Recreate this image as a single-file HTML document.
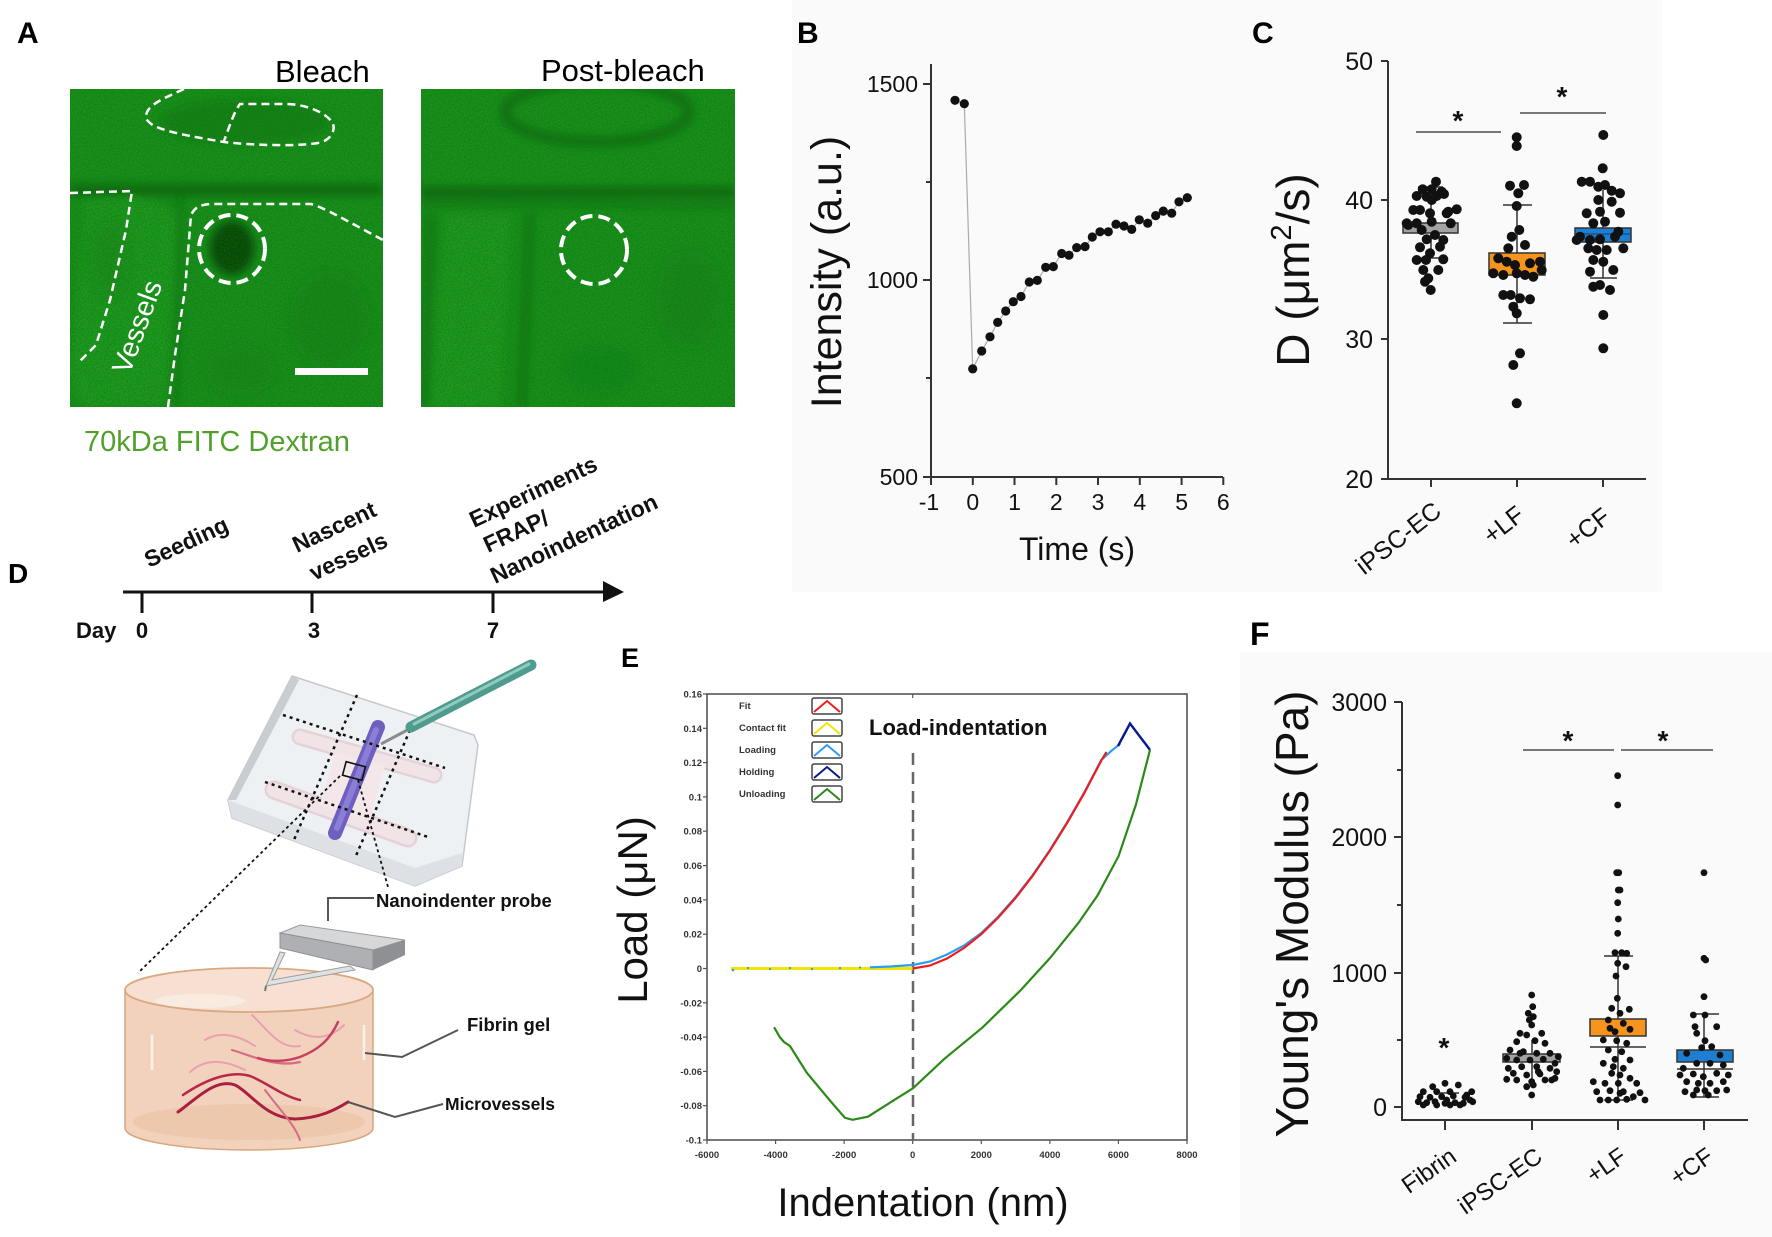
<!DOCTYPE html>
<html>
<head>
<meta charset="utf-8">
<style>
html,body{margin:0;padding:0;background:#fff;}
svg{display:block;}
text{font-family:"Liberation Sans",Arial,sans-serif;}
</style>
</head>
<body>
<svg width="1772" height="1237" viewBox="0 0 1772 1237" xmlns="http://www.w3.org/2000/svg">
<defs>
  <filter id="blur4" x="-20%" y="-20%" width="140%" height="140%"><feGaussianBlur stdDeviation="4"/></filter>
  <filter id="blur8" x="-30%" y="-30%" width="160%" height="160%"><feGaussianBlur stdDeviation="8"/></filter>
  <filter id="noise" x="0" y="0" width="100%" height="100%">
    <feTurbulence type="fractalNoise" baseFrequency="0.7" numOctaves="2" seed="3" result="n"/>
    <feColorMatrix type="matrix" values="0 0 0 0 0  0 0 0 0 0.2  0 0 0 0 0  0 0 0 1.2 -0.35" />
  </filter>
  <clipPath id="clipL"><rect x="70" y="89" width="313" height="318"/></clipPath>
  <clipPath id="clipR"><rect x="421" y="89" width="314" height="318"/></clipPath>
</defs>

<rect x="0" y="0" width="1772" height="1237" fill="#ffffff"/>
<rect x="792" y="0" width="870" height="592" fill="#fafafa"/>
<rect x="1240" y="652" width="532" height="585" fill="#fafafa"/>

<!-- ================= PANEL A ================= -->
<text x="17" y="43" font-size="30" font-weight="bold" fill="#000">A</text>
<text x="275" y="82" font-size="31" fill="#000">Bleach</text>
<text x="541" y="81" font-size="31" fill="#000">Post-bleach</text>

<g clip-path="url(#clipL)">
  <rect x="70" y="89" width="313" height="318" fill="#1f8f22"/>
  <g filter="url(#blur4)">
    <polygon points="85,200 135,195 180,215 165,407 80,407 70,370" fill="#2aa52c" opacity="0.5"/>
    <ellipse cx="245" cy="122" rx="85" ry="22" fill="#146f17" opacity="0.5"/>
    <path d="M70,190 L383,190" stroke="#0b5a10" stroke-width="11" opacity="0.8"/>
    <path d="M180,195 L175,407" stroke="#0f6414" stroke-width="6" opacity="0.5"/>
    <ellipse cx="232" cy="248" rx="22" ry="27" fill="#073f09"/>
  </g>
  <g filter="url(#blur8)">
    <ellipse cx="330" cy="320" rx="40" ry="50" fill="#157518" opacity="0.35"/>
    <ellipse cx="240" cy="370" rx="35" ry="25" fill="#167818" opacity="0.3"/>
    <ellipse cx="110" cy="260" rx="20" ry="40" fill="#157518" opacity="0.3"/>
  </g>
  <rect x="70" y="89" width="313" height="318" filter="url(#noise)"/>
  <g fill="none" stroke="#ffffff" stroke-width="2.5" stroke-dasharray="8 5">
    <path d="M184,89 C165,98 145,105 146,118 C150,128 170,133 224,142 C260,146 300,146 318,143 C333,140 336,128 332,122 C325,112 305,104 286,104 L240,104 C234,112 230,125 224,141"/>
    <path d="M70,193 L132,191 L126,230 L110,300 L96,345 L79,362"/>
    <path d="M168,407 L175,355 L185,290 L191,215 C195,207 200,205 210,204 L311,204 C325,208 345,220 383,240"/>
  </g>
  <ellipse cx="232" cy="249" rx="33" ry="34" fill="none" stroke="#ffffff" stroke-width="4" stroke-dasharray="12 6"/>
  <rect x="295" y="368" width="73" height="7" fill="#ffffff"/>
  <text transform="translate(146,330) rotate(-70)" text-anchor="middle" font-size="28" fill="#ffffff">Vessels</text>
</g>

<g clip-path="url(#clipR)">
  <rect x="421" y="89" width="314" height="318" fill="#1f8f22"/>
  <g filter="url(#blur4)">
    <ellipse cx="597" cy="112" rx="92" ry="30" fill="none" stroke="#0c5d11" stroke-width="9" opacity="0.7"/>
    <path d="M421,192 L735,192" stroke="#0b5a10" stroke-width="10" opacity="0.8"/>
    <path d="M421,202 L735,204" stroke="#0f6414" stroke-width="7" opacity="0.55"/>
    <polygon points="445,215 512,215 500,407 430,407" fill="#2aa52c" opacity="0.5"/>
    <path d="M430,215 L425,407" stroke="#0f6414" stroke-width="8" opacity="0.55"/>
    <path d="M530,212 L522,407" stroke="#0f6414" stroke-width="7" opacity="0.65"/>
  </g>
  <g filter="url(#blur8)">
    <ellipse cx="690" cy="300" rx="35" ry="50" fill="#157518" opacity="0.3"/>
    <ellipse cx="600" cy="370" rx="40" ry="25" fill="#157518" opacity="0.25"/>
  </g>
  <rect x="421" y="89" width="314" height="318" filter="url(#noise)"/>
  <ellipse cx="594" cy="250" rx="33" ry="34" fill="none" stroke="#ffffff" stroke-width="4" stroke-dasharray="12 6"/>
</g>

<text x="84" y="451" font-size="29" fill="#52a02c">70kDa FITC Dextran</text>

<!-- ================= PANEL B ================= -->
<text x="797" y="43" font-size="30" font-weight="bold" fill="#000">B</text>
<g stroke="#333" stroke-width="2" fill="none">
  <path d="M931,64 L931,477 L1223,477"/>
  <path d="M923,84 L931,84 M923,280 L931,280 M923,477 L931,477 M926,182 L931,182 M926,378 L931,378"/>
  <path d="M931,477 L931,485 M972.8,477 L972.8,485 M1014.5,477 L1014.5,485 M1056.3,477 L1056.3,485 M1098,477 L1098,485 M1139.8,477 L1139.8,485 M1181.6,477 L1181.6,485 M1223.3,477 L1223.3,485"/>
</g>
<g font-size="23" fill="#111" text-anchor="end">
  <text x="918" y="92">1500</text>
  <text x="918" y="288">1000</text>
  <text x="918" y="485">500</text>
</g>
<g font-size="23" fill="#111" text-anchor="middle">
  <text x="929" y="510">-1</text>
  <text x="972.8" y="510">0</text>
  <text x="1014.5" y="510">1</text>
  <text x="1056.3" y="510">2</text>
  <text x="1098" y="510">3</text>
  <text x="1139.8" y="510">4</text>
  <text x="1181.6" y="510">5</text>
  <text x="1223.3" y="510">6</text>
</g>
<text x="1077" y="560" font-size="32" text-anchor="middle" fill="#111">Time (s)</text>
<text transform="translate(841,272) rotate(-90)" font-size="43" text-anchor="middle" fill="#111">Intensity (a.u.)</text>
<polyline points="955,100.3 964.3,103.7 972.7,368.9 981.7,351 990,336.8 997.7,322.4 1005.7,311 1013.3,301.7 1021,296.5 1029.3,282 1037.3,280.4 1045.7,267.3 1053.3,266.6 1061.7,253.5 1069,255.2 1076.7,247.6 1085,246.6 1092.3,237 1100,231.8 1108.3,231.8 1116,224.2 1124,226 1131.7,229.4 1139.3,219.8 1147.7,223.2 1155.7,215.6 1163.3,211.1 1171.7,213.2 1179,201.8 1187.3,197.7" fill="none" stroke="#aaa" stroke-width="1.2"/>
<g fill="#111">
  <circle cx="955" cy="100.3" r="4.6"/><circle cx="964.3" cy="103.7" r="4.6"/><circle cx="972.7" cy="368.9" r="4.6"/>
  <circle cx="981.7" cy="351" r="4.6"/><circle cx="990" cy="336.8" r="4.6"/><circle cx="997.7" cy="322.4" r="4.6"/>
  <circle cx="1005.7" cy="311" r="4.6"/><circle cx="1013.3" cy="301.7" r="4.6"/><circle cx="1021" cy="296.5" r="4.6"/>
  <circle cx="1029.3" cy="282" r="4.6"/><circle cx="1037.3" cy="280.4" r="4.6"/><circle cx="1045.7" cy="267.3" r="4.6"/>
  <circle cx="1053.3" cy="266.6" r="4.6"/><circle cx="1061.7" cy="253.5" r="4.6"/><circle cx="1069" cy="255.2" r="4.6"/>
  <circle cx="1076.7" cy="247.6" r="4.6"/><circle cx="1085" cy="246.6" r="4.6"/><circle cx="1092.3" cy="237" r="4.6"/>
  <circle cx="1100" cy="231.8" r="4.6"/><circle cx="1108.3" cy="231.8" r="4.6"/><circle cx="1116" cy="224.2" r="4.6"/>
  <circle cx="1124" cy="226" r="4.6"/><circle cx="1131.7" cy="229.4" r="4.6"/><circle cx="1139.3" cy="219.8" r="4.6"/>
  <circle cx="1147.7" cy="223.2" r="4.6"/><circle cx="1155.7" cy="215.6" r="4.6"/><circle cx="1163.3" cy="211.1" r="4.6"/>
  <circle cx="1171.7" cy="213.2" r="4.6"/><circle cx="1179" cy="201.8" r="4.6"/><circle cx="1187.3" cy="197.7" r="4.6"/>
</g>

<!-- ================= PANEL C ================= -->
<text x="1252" y="43" font-size="30" font-weight="bold" fill="#000">C</text>
<g stroke="#333" stroke-width="2" fill="none">
  <path d="M1388,61 L1388,479 L1646,479"/>
  <path d="M1381,61 L1388,61 M1381,200 L1388,200 M1381,339 L1388,339 M1381,479 L1388,479"/>
  <path d="M1431,479 L1431,487 M1517,479 L1517,487 M1603,479 L1603,487"/>
</g>
<g font-size="25" fill="#111" text-anchor="end">
  <text x="1373" y="70">50</text>
  <text x="1373" y="209">40</text>
  <text x="1373" y="348">30</text>
  <text x="1373" y="488">20</text>
</g>
<text transform="translate(1309,270) rotate(-90)" font-size="46" text-anchor="middle" fill="#111">D (μm<tspan font-size="29" dy="-18">2</tspan><tspan dy="18">/s)</tspan></text>
<g font-size="25" fill="#111" text-anchor="end">
  <text transform="translate(1443,514) rotate(-38)">iPSC-EC</text>
  <text transform="translate(1526,518) rotate(-38)">+LF</text>
  <text transform="translate(1612,520) rotate(-38)">+CF</text>
</g>
<g stroke="#777" stroke-width="2">
  <line x1="1416" y1="132" x2="1501" y2="132"/>
  <line x1="1520" y1="113" x2="1606" y2="113"/>
</g>
<text x="1458" y="130" font-size="28" font-weight="bold" text-anchor="middle" fill="#111">*</text>
<text x="1562" y="106" font-size="28" font-weight="bold" text-anchor="middle" fill="#111">*</text>
<g stroke="#333" stroke-width="1.5">
  <line x1="1431" y1="187" x2="1431" y2="258"/>
  <line x1="1418" y1="187" x2="1443" y2="187"/>
  <line x1="1418" y1="195" x2="1443" y2="195"/>
  <line x1="1418" y1="258" x2="1443" y2="258"/>
  <rect x="1403" y="223" width="55" height="10" fill="#a3a3a3"/>
  <line x1="1517" y1="205" x2="1517" y2="323"/>
  <line x1="1503" y1="205" x2="1532" y2="205"/>
  <line x1="1503" y1="323" x2="1532" y2="323"/>
  <rect x="1489" y="253" width="56" height="22" fill="#f7941d"/>
  <line x1="1603" y1="190" x2="1603" y2="278"/>
  <line x1="1590" y1="278" x2="1617" y2="278"/>
  <rect x="1575" y="228" width="56" height="14" fill="#1e7fd2"/>
  <line x1="1575" y1="234" x2="1631" y2="234" stroke="#14538a"/>
</g>
<g fill="#111">
  <circle cx="1436" cy="181.7" r="5"/><circle cx="1422.7" cy="189.3" r="5"/><circle cx="1431.7" cy="189.3" r="5"/><circle cx="1441.7" cy="191.7" r="5"/>
  <circle cx="1416.7" cy="196" r="5"/><circle cx="1426.7" cy="196.7" r="5"/><circle cx="1436.7" cy="196" r="5"/><circle cx="1444" cy="194" r="5"/>
  <circle cx="1456.7" cy="209.3" r="5"/><circle cx="1413.3" cy="210" r="5"/><circle cx="1420" cy="210" r="5"/><circle cx="1430" cy="213.3" r="5"/>
  <circle cx="1446.7" cy="213.3" r="5"/><circle cx="1406.7" cy="223.3" r="5"/><circle cx="1416.7" cy="223.3" r="5"/><circle cx="1431.7" cy="221.7" r="5"/>
  <circle cx="1450.7" cy="223.3" r="5"/><circle cx="1421.7" cy="230" r="5"/><circle cx="1435" cy="235" r="5"/><circle cx="1426.7" cy="239.3" r="5"/>
  <circle cx="1443.3" cy="240" r="5"/><circle cx="1420" cy="247.3" r="5"/><circle cx="1440" cy="246.7" r="5"/><circle cx="1430" cy="253.3" r="5"/>
  <circle cx="1416.7" cy="260" r="5"/><circle cx="1426" cy="260" r="5"/><circle cx="1443.3" cy="259.3" r="5"/><circle cx="1423.3" cy="270" r="5"/>
  <circle cx="1438.3" cy="270" r="5"/><circle cx="1428.3" cy="278.3" r="5"/><circle cx="1425" cy="281.7" r="5"/><circle cx="1430.7" cy="290" r="5"/>
  <circle cx="1408.3" cy="225" r="5"/><circle cx="1448.3" cy="211.7" r="5"/><circle cx="1431.7" cy="200" r="5"/>

  <circle cx="1516.7" cy="137.3" r="5"/><circle cx="1516.7" cy="146" r="5"/><circle cx="1510" cy="185.7" r="5"/><circle cx="1524" cy="185" r="5"/>
  <circle cx="1518.3" cy="193.3" r="5"/><circle cx="1516.7" cy="206" r="5"/><circle cx="1519.3" cy="230" r="5"/><circle cx="1508.3" cy="248.3" r="5"/>
  <circle cx="1525" cy="245" r="5"/><circle cx="1498.3" cy="258.3" r="5"/><circle cx="1506.7" cy="261.7" r="5"/><circle cx="1515" cy="265" r="5"/>
  <circle cx="1530" cy="263.3" r="5"/><circle cx="1540" cy="261.7" r="5"/><circle cx="1541.7" cy="270" r="5"/><circle cx="1493.3" cy="273.3" r="5"/>
  <circle cx="1503.3" cy="275" r="5"/><circle cx="1516.7" cy="273.3" r="5"/><circle cx="1525" cy="275" r="5"/><circle cx="1533.3" cy="276.7" r="5"/>
  <circle cx="1503.3" cy="295" r="5"/><circle cx="1510.7" cy="295" r="5"/><circle cx="1520" cy="298.3" r="5"/><circle cx="1530" cy="299.3" r="5"/>
  <circle cx="1513.3" cy="306.7" r="5"/><circle cx="1516.7" cy="313.3" r="5"/><circle cx="1520" cy="353.3" r="5"/><circle cx="1513.3" cy="365" r="5"/>
  <circle cx="1516.7" cy="403.3" r="5"/><circle cx="1511.7" cy="236.7" r="5"/>

  <circle cx="1603.3" cy="135" r="5"/><circle cx="1602.7" cy="168.3" r="5"/><circle cx="1581.7" cy="181.7" r="5"/><circle cx="1590" cy="181.7" r="5"/>
  <circle cx="1598.3" cy="186.7" r="5"/><circle cx="1605" cy="185" r="5"/><circle cx="1611.7" cy="190.7" r="5"/><circle cx="1620" cy="193.3" r="5"/>
  <circle cx="1611.7" cy="201.7" r="5"/><circle cx="1598.3" cy="200" r="5"/><circle cx="1586.7" cy="213.3" r="5"/><circle cx="1600" cy="211.7" r="5"/>
  <circle cx="1620" cy="212.7" r="5"/><circle cx="1593.3" cy="223.3" r="5"/><circle cx="1605" cy="221.7" r="5"/><circle cx="1580" cy="236.7" r="5"/>
  <circle cx="1590" cy="240" r="5"/><circle cx="1600" cy="239.3" r="5"/><circle cx="1615" cy="236.7" r="5"/><circle cx="1623.3" cy="248.3" r="5"/>
  <circle cx="1588.3" cy="248.3" r="5"/><circle cx="1596.7" cy="250" r="5"/><circle cx="1606.7" cy="250" r="5"/><circle cx="1593.3" cy="260" r="5"/>
  <circle cx="1603.3" cy="261.7" r="5"/><circle cx="1613.3" cy="270" r="5"/><circle cx="1590" cy="271.7" r="5"/><circle cx="1600" cy="285" r="5"/>
  <circle cx="1593.3" cy="286.7" r="5"/><circle cx="1610" cy="290" r="5"/><circle cx="1603.3" cy="315" r="5"/><circle cx="1603.3" cy="348.3" r="5"/>
  <circle cx="1618.3" cy="231.7" r="5"/><circle cx="1576.7" cy="240" r="5"/>
</g>

<!-- ================= PANEL D ================= -->
<text x="8" y="583" font-size="28" font-weight="bold" fill="#000">D</text>
<line x1="123" y1="592" x2="607" y2="592" stroke="#111" stroke-width="3"/>
<polygon points="603,581 624,592 603,602" fill="#111"/>
<g stroke="#111" stroke-width="3">
  <line x1="142" y1="592" x2="142" y2="613"/>
  <line x1="312" y1="592" x2="312" y2="613"/>
  <line x1="493" y1="592" x2="493" y2="613"/>
</g>
<g font-size="22" font-weight="bold" fill="#111">
  <text x="76" y="638">Day</text>
  <text x="142" y="638" text-anchor="middle">0</text>
  <text x="314" y="638" text-anchor="middle">3</text>
  <text x="493" y="638" text-anchor="middle">7</text>
</g>
<g font-size="23" font-weight="bold" fill="#111">
  <text transform="translate(149,568) rotate(-25)">Seeding</text>
  <text transform="translate(297,553) rotate(-25)">Nascent</text>
  <text transform="translate(314,581) rotate(-25)">vessels</text>
  <text transform="translate(474,528) rotate(-25)">Experiments</text>
  <text transform="translate(488,553) rotate(-25)">FRAP/</text>
  <text transform="translate(495,584) rotate(-25)">Nanoindentation</text>
</g>

<polygon points="292,676 474,735 478,745 462,866 415,886 232,818 228,800" fill="#eef1f4" stroke="#c5c9cd" stroke-width="1.5"/>
<polygon points="228,800 415,868 462,853 462,866 415,886 232,818" fill="#dde1e5"/>
<polygon points="292,676 299,680 236,800 228,800" fill="#c9cdd1"/>
<g stroke-linecap="round" fill="none">
  <line x1="300" y1="737" x2="434" y2="775" stroke="#e4d2d7" stroke-width="17"/>
  <line x1="300" y1="737" x2="434" y2="775" stroke="#f1e4e7" stroke-width="12"/>
  <line x1="274" y1="790" x2="408" y2="838" stroke="#e4d2d7" stroke-width="19"/>
  <line x1="274" y1="790" x2="408" y2="838" stroke="#f1e4e7" stroke-width="14"/>
  <polygon points="335,752 385,765 370,820 320,805" fill="#f3e7ea" stroke="none"/>
  <line x1="378" y1="727" x2="335" y2="833" stroke="#6d60bf" stroke-width="14"/>
  <line x1="376" y1="730" x2="337" y2="828" stroke="#8a7ed6" stroke-width="6"/>
</g>
<g stroke="#111" stroke-width="2.5" stroke-dasharray="3 4" fill="none">
  <line x1="283" y1="715" x2="445" y2="768"/>
  <line x1="265" y1="782" x2="428" y2="837"/>
  <line x1="357" y1="695" x2="293" y2="842"/>
  <line x1="410" y1="730" x2="355" y2="858"/>
</g>
<rect x="344" y="764" width="20" height="14" fill="none" stroke="#111" stroke-width="1.6" transform="rotate(15 354 771)"/>
<g stroke="#111" stroke-width="1.8" stroke-dasharray="3 3" fill="none">
  <line x1="340" y1="776" x2="138" y2="973"/>
  <line x1="358" y1="780" x2="388" y2="887"/>
</g>
<line x1="381" y1="744" x2="413" y2="727" stroke="#8a8c8e" stroke-width="3"/>
<line x1="411" y1="727" x2="531" y2="665" stroke="#4f9b8e" stroke-width="11" stroke-linecap="round"/>
<line x1="414" y1="724" x2="529" y2="664" stroke="#8fcbbf" stroke-width="3" stroke-linecap="round"/>
<polyline points="374,898 328,898 328,921" fill="none" stroke="#555" stroke-width="2"/>
<text x="376" y="907" font-size="18.5" font-weight="bold" fill="#111">Nanoindenter probe</text>
<path d="M125,990 L125,1128 A124,22 0 0 0 373,1128 L373,990 Z" fill="#f3d2bd" stroke="#d8a67e" stroke-width="1.5"/>
<ellipse cx="249" cy="1122" rx="116" ry="18" fill="#eabd9d" opacity="0.5"/>
<ellipse cx="249" cy="990" rx="124" ry="22" fill="#f7e0d2" stroke="#d9a982" stroke-width="1.8"/>
<ellipse cx="200" cy="1001" rx="45" ry="7" fill="#ffffff" opacity="0.35"/>
<g stroke="#ffffff" stroke-width="2.5" opacity="0.7">
  <line x1="152" y1="1035" x2="152" y2="1070"/>
  <line x1="364" y1="1025" x2="364" y2="1060"/>
</g>
<g fill="none" stroke-linecap="round">
  <path d="M205,1040 C220,1030 240,1036 255,1046" stroke="#e8a1ae" stroke-width="2"/>
  <path d="M252,1015 C268,1030 280,1050 300,1046" stroke="#e8a1ae" stroke-width="2"/>
  <path d="M295,1030 C315,1042 332,1037 344,1025" stroke="#e8a1ae" stroke-width="2"/>
  <path d="M190,1072 C205,1058 225,1060 245,1070" stroke="#e8a1ae" stroke-width="2"/>
  <path d="M232,1050 C250,1055 275,1068 300,1062" stroke="#d46e85" stroke-width="2.2"/>
  <path d="M338,1022 C330,1040 318,1050 300,1057 C285,1062 270,1062 258,1058" stroke="#c8405e" stroke-width="2.5"/>
  <path d="M183,1095 C205,1080 230,1070 250,1076 C266,1082 282,1096 300,1100" stroke="#b7284a" stroke-width="2.5"/>
  <path d="M178,1112 C195,1100 215,1078 235,1085 C250,1092 265,1118 295,1119 C320,1118 335,1110 348,1102" stroke="#a81f3f" stroke-width="3"/>
  <path d="M265,1090 C280,1110 295,1125 300,1140" stroke="#d46e85" stroke-width="2"/>
</g>
<polygon points="280,952 266,986 355,970 350,966 272,980 285,953" fill="#dfe1e3" stroke="#9a9c9e" stroke-width="1"/>
<line x1="266" y1="986" x2="265" y2="991" stroke="#777" stroke-width="2"/>
<polygon points="280,933 300,925 405,940 373,950" fill="#d5d7d9" stroke="#9a9c9e" stroke-width="1"/>
<polygon points="280,933 373,950 373,970 280,948" fill="#aeb0b3" stroke="#8e9093" stroke-width="1"/>
<polygon points="373,950 405,940 405,955 373,970" fill="#8e9093"/>
<polyline points="365,1053 402,1057 458,1030" fill="none" stroke="#555" stroke-width="2"/>
<text x="467" y="1031" font-size="18.5" font-weight="bold" fill="#111">Fibrin gel</text>
<polyline points="348,1102 395,1117 443,1104" fill="none" stroke="#555" stroke-width="2"/>
<text x="445" y="1110" font-size="17.5" font-weight="bold" fill="#111">Microvessels</text>

<!-- ================= PANEL E ================= -->
<text x="621" y="667" font-size="27" font-weight="bold" fill="#000">E</text>
<rect x="707" y="694" width="480" height="446" fill="#ffffff" stroke="#555" stroke-width="1.6"/>
<g stroke="#555" stroke-width="1.2">
  <line x1="703" y1="694" x2="707" y2="694"/><line x1="703" y1="728.3" x2="707" y2="728.3"/><line x1="703" y1="762.6" x2="707" y2="762.6"/>
  <line x1="703" y1="796.9" x2="707" y2="796.9"/><line x1="703" y1="831.2" x2="707" y2="831.2"/><line x1="703" y1="865.6" x2="707" y2="865.6"/>
  <line x1="703" y1="899.9" x2="707" y2="899.9"/><line x1="703" y1="934.2" x2="707" y2="934.2"/><line x1="703" y1="968.5" x2="707" y2="968.5"/>
  <line x1="703" y1="1002.8" x2="707" y2="1002.8"/><line x1="703" y1="1037.1" x2="707" y2="1037.1"/><line x1="703" y1="1071.4" x2="707" y2="1071.4"/>
  <line x1="703" y1="1105.7" x2="707" y2="1105.7"/><line x1="703" y1="1140" x2="707" y2="1140"/>
  <line x1="707" y1="1140" x2="707" y2="1144"/><line x1="775.6" y1="1140" x2="775.6" y2="1144"/><line x1="844.1" y1="1140" x2="844.1" y2="1144"/>
  <line x1="912.7" y1="1140" x2="912.7" y2="1144"/><line x1="981.3" y1="1140" x2="981.3" y2="1144"/><line x1="1049.9" y1="1140" x2="1049.9" y2="1144"/>
  <line x1="1118.4" y1="1140" x2="1118.4" y2="1144"/><line x1="1187" y1="1140" x2="1187" y2="1144"/>
  <line x1="912.7" y1="694" x2="912.7" y2="698"/>
</g>
<g font-size="9.5" font-weight="bold" fill="#333" text-anchor="end">
  <text x="702" y="697.5">0.16</text><text x="702" y="731.8">0.14</text><text x="702" y="766.1">0.12</text>
  <text x="702" y="800.4">0.1</text><text x="702" y="834.7">0.08</text><text x="702" y="869.1">0.06</text>
  <text x="702" y="903.4">0.04</text><text x="702" y="937.7">0.02</text><text x="702" y="972">0</text>
  <text x="702" y="1006.3">-0.02</text><text x="702" y="1040.6">-0.04</text><text x="702" y="1074.9">-0.06</text>
  <text x="702" y="1109.2">-0.08</text><text x="702" y="1143.5">-0.1</text>
</g>
<g font-size="9.5" font-weight="bold" fill="#333" text-anchor="middle">
  <text x="707" y="1158">-6000</text><text x="775.6" y="1158">-4000</text><text x="844.1" y="1158">-2000</text>
  <text x="912.7" y="1158">0</text><text x="981.3" y="1158">2000</text><text x="1049.9" y="1158">4000</text>
  <text x="1118.4" y="1158">6000</text><text x="1187" y="1158">8000</text>
</g>
<line x1="913" y1="753" x2="913" y2="1140" stroke="#666" stroke-width="2.5" stroke-dasharray="12 7"/>
<g font-size="9.5" font-weight="bold" fill="#333">
  <text x="739" y="709">Fit</text>
  <text x="739" y="731">Contact fit</text>
  <text x="739" y="753">Loading</text>
  <text x="739" y="775">Holding</text>
  <text x="739" y="797">Unloading</text>
</g>
<g fill="none" stroke-width="1.5">
  <rect x="812" y="698" width="30" height="16" rx="2" stroke="#444"/>
  <polyline points="814,712 827,701 840,712" stroke="#ee1c1c" stroke-width="2"/>
  <rect x="812" y="720" width="30" height="16" rx="2" stroke="#444"/>
  <polyline points="814,734 827,723 840,734" stroke="#f2e600" stroke-width="2"/>
  <rect x="812" y="742" width="30" height="16" rx="2" stroke="#444"/>
  <polyline points="814,756 827,745 840,756" stroke="#2a9df4" stroke-width="2"/>
  <rect x="812" y="764" width="30" height="16" rx="2" stroke="#444"/>
  <polyline points="814,778 827,767 840,778" stroke="#0a1a8c" stroke-width="2"/>
  <rect x="812" y="786" width="30" height="16" rx="2" stroke="#444"/>
  <polyline points="814,800 827,789 840,800" stroke="#2a8a18" stroke-width="2"/>
</g>
<text x="869" y="735" font-size="22" font-weight="bold" fill="#111">Load-indentation</text>
<line x1="731" y1="968.5" x2="912.7" y2="968.5" stroke="#f5e400" stroke-width="3"/>
<g fill="#2a9df4">
  <circle cx="733" cy="970" r="1.3"/><circle cx="748" cy="968" r="1.1"/><circle cx="770" cy="969" r="1.1"/>
  <circle cx="790" cy="968" r="1.1"/><circle cx="812" cy="969" r="1.1"/><circle cx="840" cy="968" r="1.1"/><circle cx="860" cy="967.5" r="1.1"/>
</g>
<polyline points="870,967.3 890,966.5 912.7,965 929.8,961.6 947,954.5 964.1,945.5 981.3,933 998.4,916.5 1015.6,897 1032.7,875 1049.9,850 1067,822.5 1084.2,792.5 1101.3,760 1111.6,750.7 1120.2,743.8" fill="none" stroke="#2a9df4" stroke-width="2.2"/>
<polyline points="912.7,968.5 929.8,965.6 947,958.5 964.1,947.9 981.3,934.2 998.4,917.4 1015.6,897.9 1032.7,875.7 1049.9,850.7 1067,823.2 1084.2,793.2 1101.3,760.6 1106.5,752" fill="none" stroke="#ee1c1c" stroke-width="2.2"/>
<polyline points="1118,746 1130,723.5 1150,749.9" fill="none" stroke="#0a1a8c" stroke-width="2.4"/>
<polyline points="1150,749.9 1135.8,805 1118.6,856.1 1097.5,895.5 1078.4,923 1049.7,958.4 1021,989.9 982.7,1027.3 944.4,1058.8 913,1088.3 890.9,1102.1 867.9,1116.7 852.6,1119.8 844.9,1117.8 829.6,1100.1 806.7,1072.6 790,1046 784,1042 779.9,1037.2 774.1,1027.3" fill="none" stroke="#2a8a18" stroke-width="2.2"/>
<text transform="translate(647,910) rotate(-90)" font-size="42" text-anchor="middle" fill="#111">Load (μN)</text>
<text x="923" y="1216" font-size="40" text-anchor="middle" fill="#111">Indentation (nm)</text>

<!-- ================= PANEL F ================= -->
<text x="1250" y="645" font-size="32" font-weight="bold" fill="#000">F</text>
<g stroke="#333" stroke-width="2" fill="none">
  <path d="M1402,702 L1402,1120 L1748,1120"/>
  <path d="M1394,702 L1402,702 M1394,837 L1402,837 M1394,973 L1402,973 M1394,1107 L1402,1107 M1397,770 L1402,770 M1397,905 L1402,905 M1397,1040 L1402,1040"/>
  <path d="M1445,1120 L1445,1130 M1532,1120 L1532,1130 M1618,1120 L1618,1130 M1704,1120 L1704,1130"/>
</g>
<g font-size="25" fill="#111" text-anchor="end">
  <text x="1387" y="711">3000</text>
  <text x="1387" y="846">2000</text>
  <text x="1387" y="982">1000</text>
  <text x="1387" y="1116">0</text>
</g>
<text transform="translate(1308,914) rotate(-90)" font-size="46" text-anchor="middle" fill="#111">Young's Modulus (Pa)</text>
<g font-size="24" fill="#111" text-anchor="end">
  <text transform="translate(1458,1160) rotate(-35)">Fibrin</text>
  <text transform="translate(1544,1160) rotate(-35)">iPSC-EC</text>
  <text transform="translate(1628,1160) rotate(-35)">+LF</text>
  <text transform="translate(1715,1160) rotate(-35)">+CF</text>
</g>
<g stroke="#777" stroke-width="2">
  <line x1="1523" y1="750" x2="1614" y2="750"/>
  <line x1="1621" y1="750" x2="1713" y2="750"/>
</g>
<g font-size="28" font-weight="bold" fill="#111" text-anchor="middle">
  <text x="1568" y="750">*</text>
  <text x="1663" y="750">*</text>
  <text x="1444" y="1057">*</text>
</g>
<g stroke="#333" stroke-width="1.5">
  <line x1="1437" y1="1093" x2="1459" y2="1093"/>
  <line x1="1532" y1="1040" x2="1532" y2="1085"/>
  <rect x="1503" y="1054" width="57" height="8" fill="#a3a3a3"/>
  <line x1="1618" y1="956" x2="1618" y2="1100"/>
  <line x1="1604" y1="956" x2="1633" y2="956"/>
  <line x1="1604" y1="1100" x2="1633" y2="1100"/>
  <rect x="1590" y="1019" width="56" height="17" fill="#f7941d"/>
  <line x1="1590" y1="1047" x2="1646" y2="1047"/>
  <line x1="1704" y1="1014" x2="1704" y2="1097"/>
  <line x1="1691" y1="1014" x2="1719" y2="1014"/>
  <line x1="1691" y1="1097" x2="1719" y2="1097"/>
  <rect x="1677" y="1050" width="56" height="12" fill="#1e7fd2"/>
  <line x1="1677" y1="1069" x2="1733" y2="1069"/>
</g>
<g fill="#111">
  <circle cx="1445" cy="1083.3" r="3.4"/><circle cx="1458.3" cy="1085" r="3.4"/><circle cx="1432.7" cy="1086.7" r="3.4"/><circle cx="1423.3" cy="1091.7" r="3.4"/>
  <circle cx="1436.7" cy="1091.7" r="3.4"/><circle cx="1450" cy="1091.7" r="3.4"/><circle cx="1471.7" cy="1091.7" r="3.4"/><circle cx="1420" cy="1096.7" r="3.4"/>
  <circle cx="1430" cy="1097.3" r="3.4"/><circle cx="1441.7" cy="1096.7" r="3.4"/><circle cx="1453.3" cy="1096" r="3.4"/><circle cx="1465" cy="1097.3" r="3.4"/>
  <circle cx="1470" cy="1100" r="3.4"/><circle cx="1418.3" cy="1101.7" r="3.4"/><circle cx="1426.7" cy="1102.7" r="3.4"/><circle cx="1435" cy="1101.7" r="3.4"/>
  <circle cx="1445" cy="1103.3" r="3.4"/><circle cx="1455" cy="1102.7" r="3.4"/><circle cx="1463.3" cy="1103.3" r="3.4"/><circle cx="1472.7" cy="1101.7" r="3.4"/>
  <circle cx="1423.3" cy="1105" r="3.4"/><circle cx="1436.7" cy="1105" r="3.4"/><circle cx="1450" cy="1105" r="3.4"/><circle cx="1460" cy="1105" r="3.4"/>
  <circle cx="1466.7" cy="1095" r="3.4"/><circle cx="1446.7" cy="1100" r="3.4"/>

  <circle cx="1531.7" cy="995" r="3.4"/><circle cx="1532.7" cy="1006.7" r="3.4"/><circle cx="1528.3" cy="1013.3" r="3.4"/><circle cx="1533.3" cy="1016.7" r="3.4"/>
  <circle cx="1529.3" cy="1020" r="3.4"/><circle cx="1531.7" cy="1025" r="3.4"/><circle cx="1520" cy="1033.3" r="3.4"/><circle cx="1526.7" cy="1035" r="3.4"/>
  <circle cx="1541.7" cy="1033.3" r="3.4"/><circle cx="1516.7" cy="1041.7" r="3.4"/><circle cx="1535" cy="1040.7" r="3.4"/><circle cx="1545" cy="1043.3" r="3.4"/>
  <circle cx="1510" cy="1050" r="3.4"/><circle cx="1523.3" cy="1051.7" r="3.4"/><circle cx="1536.7" cy="1053.3" r="3.4"/><circle cx="1550" cy="1053.3" r="3.4"/>
  <circle cx="1558.3" cy="1056.7" r="3.4"/><circle cx="1506.7" cy="1058.3" r="3.4"/><circle cx="1516.7" cy="1060" r="3.4"/><circle cx="1530" cy="1060" r="3.4"/>
  <circle cx="1543.3" cy="1059.3" r="3.4"/><circle cx="1555" cy="1063.3" r="3.4"/><circle cx="1508.3" cy="1068.3" r="3.4"/><circle cx="1521.7" cy="1066.7" r="3.4"/>
  <circle cx="1536.7" cy="1066.7" r="3.4"/><circle cx="1550" cy="1068.3" r="3.4"/><circle cx="1556.7" cy="1071.7" r="3.4"/><circle cx="1513.3" cy="1073.3" r="3.4"/>
  <circle cx="1526.7" cy="1075" r="3.4"/><circle cx="1540" cy="1074" r="3.4"/><circle cx="1506.7" cy="1079.3" r="3.4"/><circle cx="1516.7" cy="1080" r="3.4"/>
  <circle cx="1531.7" cy="1081.7" r="3.4"/><circle cx="1545" cy="1080" r="3.4"/><circle cx="1555" cy="1078.3" r="3.4"/><circle cx="1526.7" cy="1086.7" r="3.4"/>
  <circle cx="1533.3" cy="1085" r="3.4"/><circle cx="1531.7" cy="1095" r="3.4"/><circle cx="1538.3" cy="1071.7" r="3.4"/><circle cx="1520" cy="1053.3" r="3.4"/>
  <circle cx="1551.7" cy="1080" r="3.4"/>

  <circle cx="1617.7" cy="775.7" r="3.4"/><circle cx="1617.7" cy="805" r="3.4"/><circle cx="1616.7" cy="872.7" r="3.4"/><circle cx="1618.7" cy="872.7" r="3.4"/>
  <circle cx="1618.3" cy="890" r="3.4"/><circle cx="1620" cy="890" r="3.4"/><circle cx="1617.7" cy="902.7" r="3.4"/><circle cx="1618.3" cy="919" r="3.4"/>
  <circle cx="1617.7" cy="933.3" r="3.4"/><circle cx="1615" cy="952.7" r="3.4"/><circle cx="1621.7" cy="952.7" r="3.4"/><circle cx="1626.7" cy="953.3" r="3.4"/>
  <circle cx="1617.7" cy="963.3" r="3.4"/><circle cx="1626" cy="966.7" r="3.4"/><circle cx="1616" cy="976" r="3.4"/><circle cx="1617.3" cy="998.3" r="3.4"/>
  <circle cx="1611.7" cy="1008.3" r="3.4"/><circle cx="1629.3" cy="1009.3" r="3.4"/><circle cx="1620" cy="1013.3" r="3.4"/><circle cx="1608.3" cy="1020" r="3.4"/>
  <circle cx="1623.3" cy="1023.3" r="3.4"/><circle cx="1610" cy="1028.3" r="3.4"/><circle cx="1615" cy="1031.7" r="3.4"/><circle cx="1630" cy="1029.3" r="3.4"/>
  <circle cx="1603.3" cy="1040" r="3.4"/><circle cx="1616.7" cy="1040.7" r="3.4"/><circle cx="1626.7" cy="1043.3" r="3.4"/><circle cx="1608.3" cy="1050" r="3.4"/>
  <circle cx="1621.7" cy="1051.7" r="3.4"/><circle cx="1615" cy="1059.3" r="3.4"/><circle cx="1630" cy="1060" r="3.4"/><circle cx="1603.3" cy="1063.3" r="3.4"/>
  <circle cx="1613.3" cy="1066.7" r="3.4"/><circle cx="1623.3" cy="1068.3" r="3.4"/><circle cx="1611.7" cy="1073.3" r="3.4"/><circle cx="1620" cy="1075" r="3.4"/>
  <circle cx="1630" cy="1078.3" r="3.4"/><circle cx="1593.3" cy="1081.7" r="3.4"/><circle cx="1605" cy="1083.3" r="3.4"/><circle cx="1618.3" cy="1083.3" r="3.4"/>
  <circle cx="1636.7" cy="1083.3" r="3.4"/><circle cx="1596.7" cy="1091.7" r="3.4"/><circle cx="1610" cy="1090.7" r="3.4"/><circle cx="1623.3" cy="1091.7" r="3.4"/>
  <circle cx="1640" cy="1092.7" r="3.4"/><circle cx="1600" cy="1100" r="3.4"/><circle cx="1608.3" cy="1100" r="3.4"/><circle cx="1616.7" cy="1100" r="3.4"/>
  <circle cx="1626.7" cy="1099.3" r="3.4"/><circle cx="1645" cy="1100" r="3.4"/><circle cx="1633.3" cy="1096.7" r="3.4"/><circle cx="1620" cy="1093.3" r="3.4"/>

  <circle cx="1704" cy="872.7" r="3.4"/><circle cx="1704" cy="958.3" r="3.4"/><circle cx="1705.7" cy="960" r="3.4"/><circle cx="1704" cy="996.7" r="3.4"/>
  <circle cx="1693.3" cy="1015" r="3.4"/><circle cx="1705" cy="1015" r="3.4"/><circle cx="1695" cy="1026.7" r="3.4"/><circle cx="1716.7" cy="1026.7" r="3.4"/>
  <circle cx="1705" cy="1040.7" r="3.4"/><circle cx="1696.7" cy="1033.3" r="3.4"/><circle cx="1686.7" cy="1053.3" r="3.4"/><circle cx="1701.7" cy="1047.7" r="3.4"/>
  <circle cx="1711.7" cy="1046.7" r="3.4"/><circle cx="1720" cy="1055" r="3.4"/><circle cx="1683.3" cy="1068.3" r="3.4"/><circle cx="1696.7" cy="1063.3" r="3.4"/>
  <circle cx="1710" cy="1063.3" r="3.4"/><circle cx="1723.3" cy="1065" r="3.4"/><circle cx="1680" cy="1075" r="3.4"/><circle cx="1693.3" cy="1074" r="3.4"/>
  <circle cx="1703.3" cy="1076.7" r="3.4"/><circle cx="1716.7" cy="1073.3" r="3.4"/><circle cx="1728.3" cy="1075" r="3.4"/><circle cx="1686.7" cy="1081.7" r="3.4"/>
  <circle cx="1698.3" cy="1083.3" r="3.4"/><circle cx="1710" cy="1083.3" r="3.4"/><circle cx="1723.3" cy="1081.7" r="3.4"/><circle cx="1685" cy="1091.7" r="3.4"/>
  <circle cx="1696.7" cy="1090" r="3.4"/><circle cx="1705" cy="1090.7" r="3.4"/><circle cx="1716.7" cy="1090.7" r="3.4"/><circle cx="1726.7" cy="1090" r="3.4"/>
  <circle cx="1693.3" cy="1095" r="3.4"/><circle cx="1708.3" cy="1095" r="3.4"/>
</g>
</svg>
</body>
</html>
